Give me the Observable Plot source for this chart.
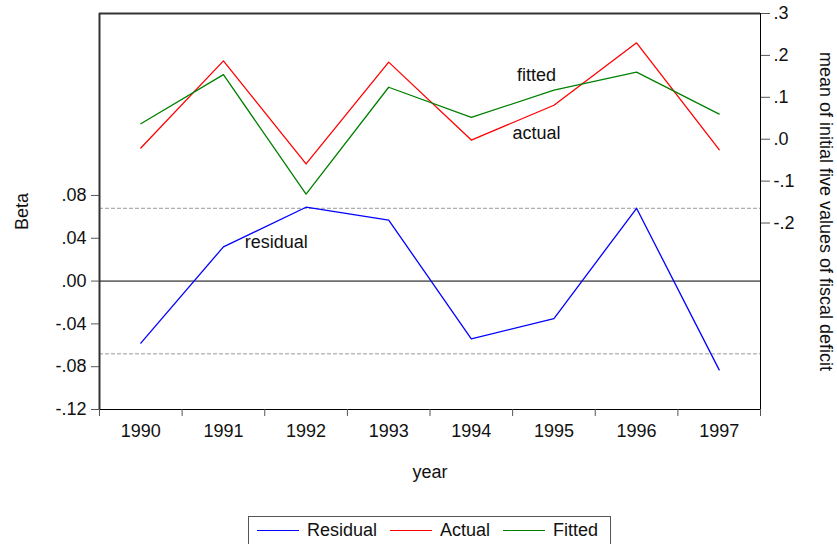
<!DOCTYPE html>
<html>
<head>
<meta charset="utf-8">
<script src="https://cdn.jsdelivr.net/npm/d3@7"></script>
<script src="https://cdn.jsdelivr.net/npm/@observablehq/plot@0.6"></script>
<style>
  html, body { margin: 0; padding: 0; background: #fff; overflow: hidden; }
  body { width: 837px; height: 544px; position: relative; font-family: "Liberation Sans", Arial, sans-serif; }
  #chart svg { display: block; }
  #legend {
    position: absolute; left: 248px; top: 516px; width: 363px; height: 36px;
    box-sizing: border-box; border: 1px solid #555; background: #fff;
    display: flex; align-items: flex-start; padding: 3px 0 0 8px;
    font-size: 18px; line-height: 20px; color: #111;
  }
  #legend .item { display: flex; align-items: center; margin-right: 13px; }
  #legend .swatch { width: 42px; height: 0; border-top: 1.5px solid; margin-right: 8px; }
</style>
</head>
<body>
<div id="chart"></div>
<div id="legend"></div>
<script>
// Observation years
const years = [1990, 1991, 1992, 1993, 1994, 1995, 1996, 1997];
// Residual series (left axis, "Beta")
const residual = [-0.058, 0.032, 0.069, 0.057, -0.054, -0.035, 0.068, -0.083];
// Actual and fitted series (right axis)
const actual = [-0.021, 0.187, -0.059, 0.184, -0.002, 0.081, 0.230, -0.025];
const fitted = [0.037, 0.154, -0.131, 0.124, 0.052, 0.117, 0.160, 0.060];
// Standard error band around zero residual
const seBand = 0.068;

// Axis ticks
const leftTicks = [-0.12, -0.08, -0.04, 0, 0.04, 0.08];
const rightTicks = [-0.2, -0.1, 0, 0.1, 0.2, 0.3];
const leftDomain = [-0.12, 0.25];
const rightDomain = [-0.645, 0.30];
const xDomain = [1989.5, 1997.5];

// Series names and colours
const seriesNames = ["Residual", "Actual", "Fitted"];
const seriesColors = ["#0000ff", "#ff0000", "#008000"];

// In-plot annotations (right-axis units for actual/fitted, left for residual)
const notes = [
  {text: "fitted", x: 1994.79, y: 0.153, axis: "right"},
  {text: "actual", x: 1994.79, y: 0.014, axis: "right"},
  {text: "residual", x: 1991.64, y: 0.0366, axis: "left"}
];

// Map right-axis values into the left (plot) y scale
const toLeft = d3.scaleLinear(rightDomain, leftDomain);

const fmtLeft = d => d.toFixed(2).replace("0.", ".");
const fmtRight = d => (Math.round(d * 10) / 10).toFixed(1).replace("0.", ".");

const residRows = years.map((year, i) => ({year, value: residual[i]}));
const actualRows = years.map((year, i) => ({year, value: toLeft(actual[i])}));
const fittedRows = years.map((year, i) => ({year, value: toLeft(fitted[i])}));
const noteRows = notes.map(n => ({...n, yy: n.axis === "right" ? toLeft(n.y) : n.y}));
const halfYears = d3.range(xDomain[0], xDomain[1] + 0.01, 1);

const font = '"Liberation Sans", Arial, sans-serif';
const fs = 18;

const chart = Plot.plot({
  width: 837,
  height: 500,
  marginLeft: 99,
  marginRight: 77,
  marginTop: 13,
  marginBottom: 91,
  style: {fontFamily: font, fontSize: fs + "px", color: "#111", background: "#fff"},
  x: {domain: xDomain, axis: null},
  y: {domain: leftDomain, axis: null},
  marks: [
    Plot.ruleY([-seBand, seBand], {stroke: "#9a9a9a", strokeDasharray: "4,2", strokeWidth: 1}),
    Plot.ruleY([0], {stroke: "#000", strokeWidth: 1}),
    Plot.line(residRows, {x: "year", y: "value", stroke: seriesColors[0], strokeWidth: 1.3}),
    Plot.line(actualRows, {x: "year", y: "value", stroke: seriesColors[1], strokeWidth: 1.3}),
    Plot.line(fittedRows, {x: "year", y: "value", stroke: seriesColors[2], strokeWidth: 1.3}),
    Plot.text(noteRows, {x: "x", y: "yy", text: "text", fontSize: fs, fill: "#111"}),
    // frame: heavier top and left edges, thin bottom and right edges
    Plot.ruleY([leftDomain[1]], {stroke: "#333", strokeWidth: 2}),
    Plot.ruleY([leftDomain[0]], {stroke: "#000", strokeWidth: 1}),
    Plot.ruleX([xDomain[0]], {stroke: "#333", strokeWidth: 2}),
    Plot.ruleX([xDomain[1]], {stroke: "#000", strokeWidth: 1}),
    // axes
    Plot.axisX({ticks: halfYears, tickSize: 7, tickFormat: () => "", stroke: "#555"}),
    Plot.axisX({ticks: years, tickSize: 0, tickPadding: 15, tickFormat: d => String(d), fontSize: fs}),
    Plot.axisY({anchor: "left", ticks: leftTicks, tickSize: 8, tickPadding: 5, tickFormat: fmtLeft, fontSize: fs, stroke: "#555"}),
    Plot.axisY({anchor: "right", ticks: rightTicks.map(toLeft), tickSize: 9, tickPadding: 4,
      tickFormat: d => fmtRight(toLeft.invert(d)), fontSize: fs, stroke: "#555"}),
    // axis titles
    Plot.text(["Beta"], {frameAnchor: "left", dx: -77, rotate: -90, textAnchor: "middle", fontSize: fs}),
    Plot.text(["mean of initial five values of fiscal deficit"], {frameAnchor: "right", dx: 65, rotate: 90, textAnchor: "middle", fontSize: 18}),
    Plot.text(["year"], {frameAnchor: "bottom", dy: 68, textAnchor: "middle", fontSize: fs})
  ]
});
document.getElementById("chart").appendChild(chart);

// Legend box
const legend = document.getElementById("legend");
seriesNames.forEach((name, i) => {
  const item = document.createElement("div");
  item.className = "item";
  const sw = document.createElement("span");
  sw.className = "swatch";
  sw.style.borderTopColor = seriesColors[i];
  const label = document.createElement("span");
  label.textContent = name;
  item.appendChild(sw);
  item.appendChild(label);
  legend.appendChild(item);
});
</script>
</body>
</html>
